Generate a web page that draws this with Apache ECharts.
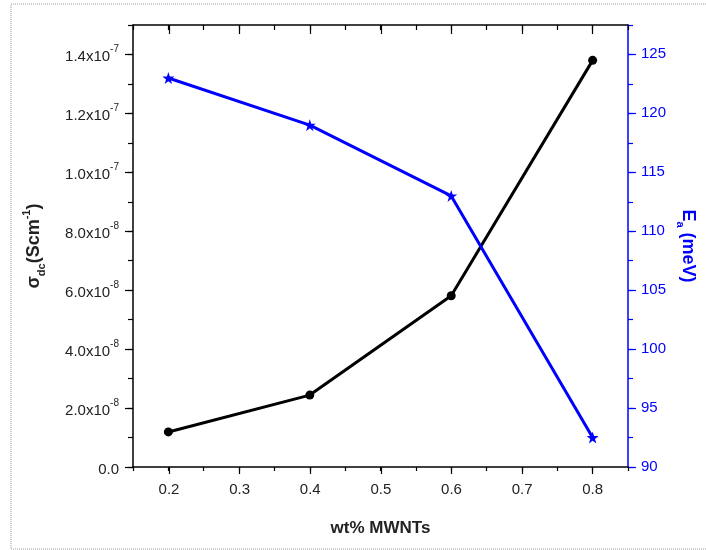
<!DOCTYPE html>
<html>
<head>
<meta charset="utf-8">
<script src="https://cdn.jsdelivr.net/npm/echarts@6/dist/echarts.min.js"></script>
<style>
  html, body { margin: 0; padding: 0; background: #fff; }
  #chart { width: 706px; height: 550px; }
</style>
</head>
<body>
<div id="chart"></div>
<script>
// data
const wtPct = [0.2, 0.4, 0.6, 0.8];
const sigmaDc = [1.19e-8, 2.44e-8, 5.81e-8, 1.38e-7];
const activationEnergy = [123, 119, 113, 92.5];

const FONT = 'Liberation Sans, Arial, sans-serif';
const BLUE = '#0000ff';
const INK = '#222';

// plot box
const box = { left: 133, top: 25, width: 495, height: 442 };

function sciLabel(v) {
  if (Math.abs(v) < 1e-20) return '{m|0.0}';
  const parts = v.toExponential(1).split('e');
  return '{m|' + parts[0] + 'x10}{e|' + Number(parts[1]) + '}';
}

const labelRich = {
  m: { fontSize: 15, fontFamily: FONT, color: INK, lineHeight: 20, verticalAlign: 'bottom' },
  e: { fontSize: 10, fontFamily: FONT, color: INK, lineHeight: 20, verticalAlign: 'top' },
};

const chart = echarts.init(document.getElementById('chart'));

const option = {
  animation: false,
  backgroundColor: '#fff',
  graphic: [
    {
      type: 'rect',
      shape: { x: 11, y: 4, width: 710, height: 545 },
      style: { fill: 'none', stroke: '#999', lineWidth: 1, lineDash: [1, 1] },
      silent: true,
      z: -1,
    },
  ],
  grid: [
    // main grid: lines, minor ticks
    { left: box.left, top: box.top, width: box.width, height: box.height },
    // x major ticks (0.2 .. 0.8)
    { left: 169, top: box.top, width: 423.7, height: box.height },
    // y major ticks (left 0..1.4e-7, right 90..125)
    { left: box.left, top: 54.2, width: box.width, height: 412.8 },
  ],
  xAxis: [
    {
      gridIndex: 0, type: 'value', position: 'bottom',
      min: 0.15, max: 0.85, interval: 0.05,
      axisLine: { lineStyle: { color: '#000', width: 1.5 } },
      axisTick: { length: 4, lineStyle: { color: '#000', width: 1.2 } },
      axisLabel: { show: false },
      splitLine: { show: false },
      name: 'wt% MWNTs', nameLocation: 'middle', nameGap: 53,
      nameTextStyle: { fontFamily: FONT, fontSize: 17, fontWeight: 'bold', color: INK },
    },
    {
      gridIndex: 0, type: 'value', position: 'top',
      min: 0.15, max: 0.85, interval: 0.05,
      axisLine: { lineStyle: { color: '#000', width: 1.5 } },
      axisTick: { inside: true, length: 5, lineStyle: { color: '#000', width: 1.2 } },
      axisLabel: { show: false },
      splitLine: { show: false },
    },
    {
      gridIndex: 1, type: 'value', position: 'bottom',
      min: 0.2, max: 0.8, interval: 0.1,
      axisLine: { show: false },
      axisTick: { length: 7, lineStyle: { color: '#000', width: 1.2 } },
      axisLabel: {
        margin: 15, fontFamily: FONT, fontSize: 15, color: INK,
        formatter: (v) => v.toFixed(1),
      },
      splitLine: { show: false },
    },
    {
      gridIndex: 1, type: 'value', position: 'top',
      min: 0.2, max: 0.8, interval: 0.1,
      axisLine: { show: false },
      axisTick: { inside: true, length: 9, lineStyle: { color: '#000', width: 1.2 } },
      axisLabel: { show: false },
      splitLine: { show: false },
    },
    { gridIndex: 2, type: 'value', show: false },
  ],
  yAxis: [
    {
      gridIndex: 0, type: 'value', position: 'left',
      min: 0, max: 1.5e-7, interval: 1e-8,
      axisLine: { lineStyle: { color: '#000', width: 1.5 } },
      axisTick: { length: 5, lineStyle: { color: '#000', width: 1.2 } },
      axisLabel: { show: false },
      splitLine: { show: false },
      name: '{b|σ}{sub|dc}{b|(Scm}{sup|-1}{b|)}',
      nameLocation: 'middle', nameGap: 86,
      nameTextStyle: {
        rich: {
          b: { fontFamily: FONT, fontSize: 18, fontWeight: 'bold', color: INK, lineHeight: 26, verticalAlign: 'middle' },
          sub: { fontFamily: FONT, fontSize: 11, fontWeight: 'bold', color: INK, lineHeight: 26, verticalAlign: 'bottom' },
          sup: { fontFamily: FONT, fontSize: 11, fontWeight: 'bold', color: INK, lineHeight: 26, verticalAlign: 'top' },
        },
      },
    },
    {
      gridIndex: 0, type: 'value', position: 'right',
      min: 90, max: 127.5, interval: 2.5,
      axisLine: { lineStyle: { color: BLUE, width: 1.5 } },
      axisTick: { length: 5, lineStyle: { color: BLUE, width: 1.2 } },
      axisLabel: { show: false },
      splitLine: { show: false },
      name: '{b|E}{sub|a}{b| (meV)}',
      nameLocation: 'middle', nameGap: 47, nameRotate: -90,
      nameTextStyle: {
        rich: {
          b: { fontFamily: FONT, fontSize: 18, fontWeight: 'bold', color: BLUE, lineHeight: 26, verticalAlign: 'middle' },
          sub: { fontFamily: FONT, fontSize: 11, fontWeight: 'bold', color: BLUE, lineHeight: 26, verticalAlign: 'bottom' },
        },
      },
    },
    { gridIndex: 1, type: 'value', show: false },
    {
      gridIndex: 2, type: 'value', position: 'left',
      min: 0, max: 1.4e-7, interval: 2e-8,
      axisLine: { show: false },
      axisTick: { length: 8, lineStyle: { color: '#000', width: 1.2 } },
      axisLabel: { margin: 14, formatter: sciLabel, rich: labelRich },
      splitLine: { show: false },
    },
    {
      gridIndex: 2, type: 'value', position: 'right',
      min: 90, max: 125, interval: 5,
      axisLine: { show: false },
      axisTick: { length: 8, lineStyle: { color: BLUE, width: 1.2 } },
      axisLabel: { margin: 13, fontFamily: FONT, fontSize: 15, color: BLUE },
      splitLine: { show: false },
    },
  ],
  series: [
    {
      name: 'sigma_dc', type: 'line', xAxisIndex: 0, yAxisIndex: 0,
      data: wtPct.map((x, i) => [x, sigmaDc[i]]),
      lineStyle: { color: '#000', width: 3 },
      itemStyle: { color: '#000' },
      symbol: 'circle', symbolSize: 9,
      z: 3,
    },
    {
      name: 'Ea', type: 'line', xAxisIndex: 0, yAxisIndex: 1,
      data: wtPct.map((x, i) => [x, activationEnergy[i]]),
      lineStyle: { color: BLUE, width: 3 },
      itemStyle: { color: BLUE },
      symbol: 'path://M50,0 L61.8,35.6 L99,35.6 L69,57.6 L80.4,93.5 L50,71.5 L19.6,93.5 L31,57.6 L1,35.6 L38.2,35.6 Z',
      symbolSize: 12,
      z: 4,
    },
  ],
};

chart.setOption(option);
</script>
</body>
</html>
